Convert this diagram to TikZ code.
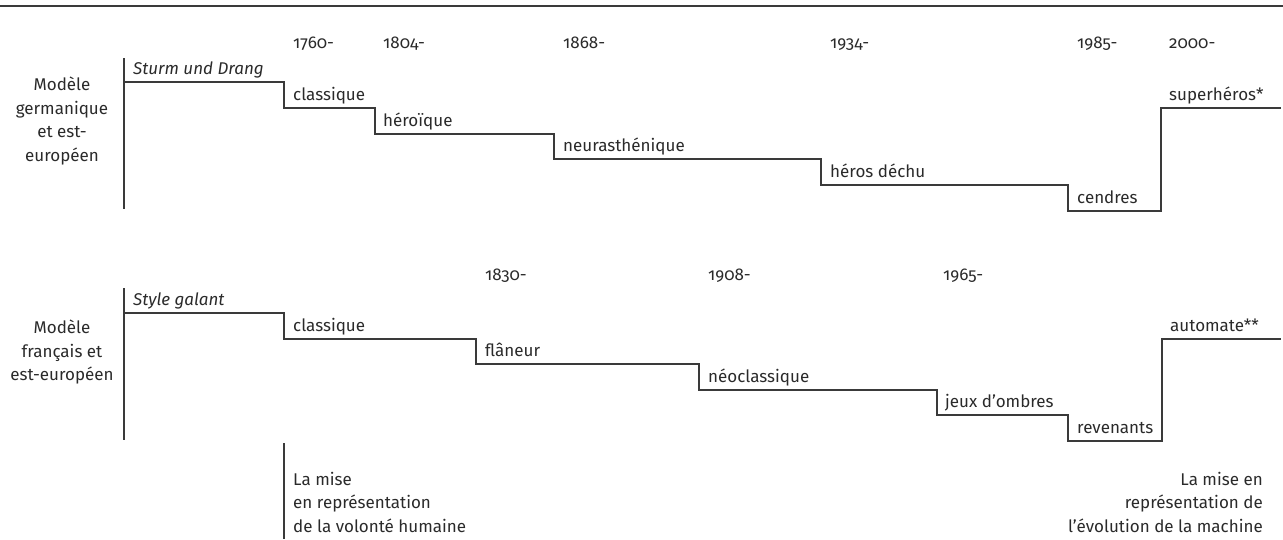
\documentclass[tikz,border=0pt]{standalone}
\usepackage{fontspec}
\setmainfont{Fira Sans}[Numbers=OldStyle]
\definecolor{ink}{HTML}{2A2A2A}
\definecolor{rule}{HTML}{3A3A3A}
\begin{document}
\begin{tikzpicture}[x=1pt,y=-1pt,
  every node/.style={inner sep=0pt,text=ink,font=\fontsize{17}{23.5}\selectfont},
  lab/.style={anchor=base west},
  dat/.style={anchor=base west},
  side/.style={align=center,anchor=center},
  stepline/.style={draw=rule,line width=1.3pt,line join=miter},
  axis/.style={draw=rule,line width=1.3pt}]
\useasboundingbox (0,0) rectangle (1283,539);
\draw[axis] (0,6) -- (1283,6);

% ---------- top model ----------
\coordinate (tA0) at (124,58);
\coordinate (tA1) at (124,209);
\draw[axis] (tA0) -- (tA1);
\draw[stepline] (124,82) -- (284,82) -- (284,108) -- (375,108) -- (375,134)
  -- (554,134) -- (554,159) -- (821,159) -- (821,185) -- (1068,185)
  -- (1068,211) -- (1161,211) -- (1161,108) -- (1281,108);

\node[side] (tside) at (62,121) {Modèle\\germanique\\et est-\\européen};
\node[lab] (tsd) at (133,74) {\itshape Sturm und Drang};
\node[lab] (tc1) at (293,100) {classique};
\node[lab] (tc2) at (383,126) {héroïque};
\node[lab] (tc3) at (563,151) {neurasthénique};
\node[lab] (tc4) at (830,177) {héros déchu};
\node[lab] (tc5) at (1077,203) {cendres};
\node[lab] (tc6) at (1169,100) {superhéros*};

\node[dat] (td1) at (293,48) {1760-};
\node[dat] (td2) at (383,48) {1804-};
\node[dat] (td3) at (563,48) {1868-};
\node[dat] (td4) at (830,48) {1934-};
\node[dat] (td5) at (1077,48) {1985-};
\node[dat] (td6) at (1169,48) {2000-};

% ---------- bottom model ----------
\coordinate (bA0) at (124,288);
\coordinate (bA1) at (124,440);
\draw[axis] (bA0) -- (bA1);
\draw[stepline] (124,313) -- (284,313) -- (284,339) -- (476,339) -- (476,364)
  -- (699,364) -- (699,390) -- (937,390) -- (937,415) -- (1068,415)
  -- (1068,441) -- (1162,441) -- (1162,339) -- (1281,339);

\node[side] (bside) at (62,352) {Modèle\\français et\\est-européen};
\node[lab] (bsg) at (133,305) {\itshape Style galant};
\node[lab] (bc1) at (293,331) {classique};
\node[lab] (bc2) at (485,356) {flâneur};
\node[lab] (bc3) at (708,382) {néoclassique};
\node[lab] (bc4) at (945,407) {jeux d’ombres};
\node[lab] (bc5) at (1077,433) {revenants};
\node[lab] (bc6) at (1170,331) {automate**};

\node[dat] (bd1) at (485,280) {1830-};
\node[dat] (bd2) at (708,280) {1908-};
\node[dat] (bd3) at (943,280) {1965-};

% ---------- notes ----------
\coordinate (nA0) at (284,443);
\coordinate (nA1) at (284,539);
\draw[axis] (nA0) -- (nA1);
\node[align=left,anchor=west] (nleft) at (293,502) {La mise\\en représentation\\de la volonté humaine};
\node[align=right,anchor=east] (nright) at (1263,502) {La mise en\\représentation de\\l’évolution de la machine};
\end{tikzpicture}
\end{document}
